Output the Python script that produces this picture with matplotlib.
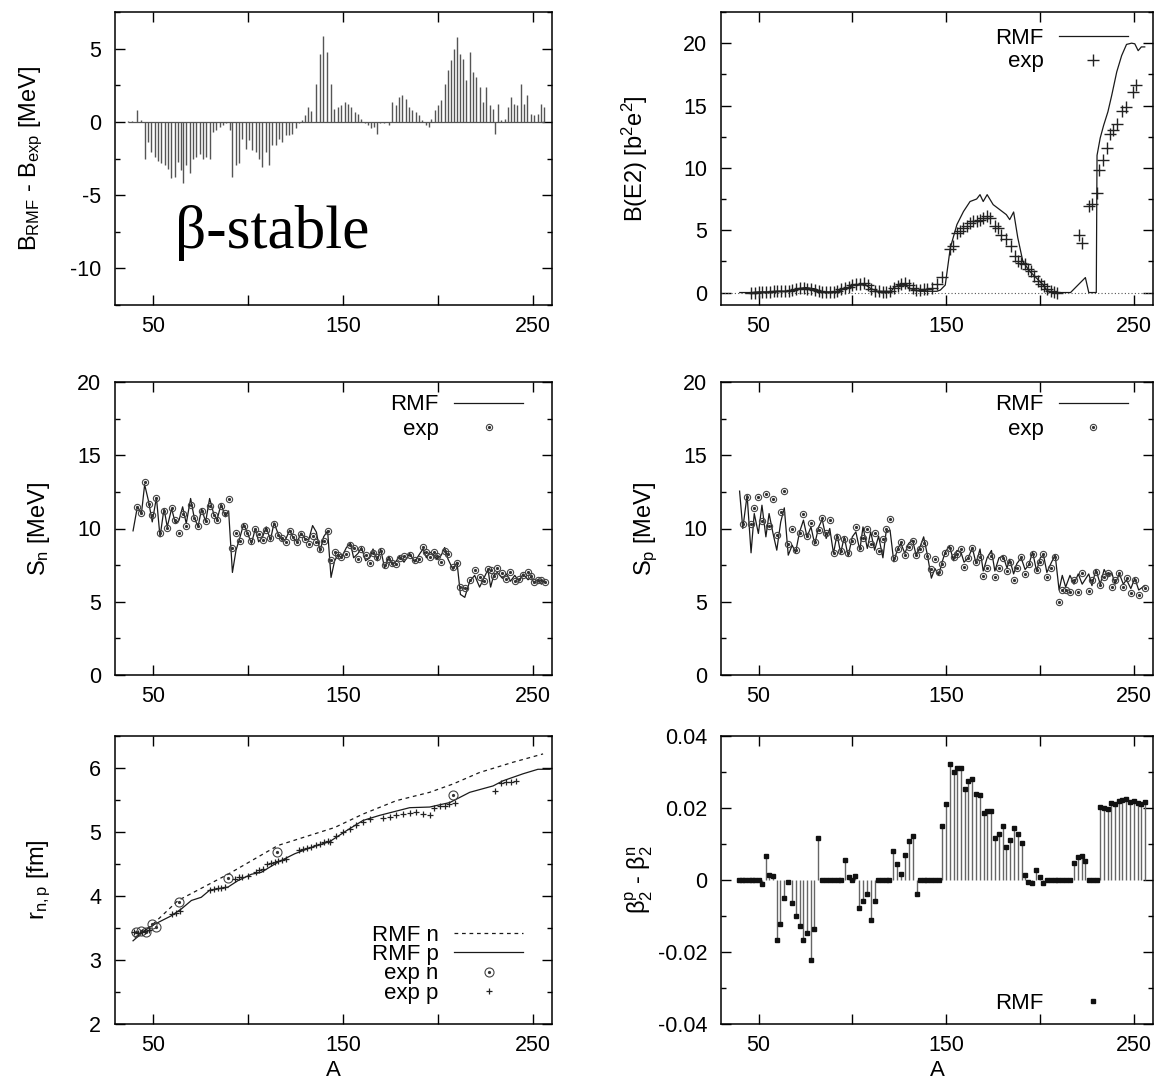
import matplotlib
matplotlib.use('Agg')

import numpy as np
import matplotlib.pyplot as plt
from matplotlib.lines import Line2D
from matplotlib.ticker import MultipleLocator, FixedLocator, FuncFormatter

plt.rcParams.update({
    'font.family': 'Liberation Sans',
    'font.size': 16,
    'axes.labelsize': 17,
    'xtick.labelsize': 15.5,
    'ytick.labelsize': 15.5,
    'mathtext.fontset': 'custom',
    'mathtext.rm': 'Liberation Sans',
    'mathtext.it': 'Liberation Sans:italic',
    'mathtext.bf': 'Liberation Sans:bold',
    'axes.unicode_minus': False,
    'axes.linewidth': 1.1,
    'xtick.direction': 'in', 'ytick.direction': 'in',
    'xtick.top': True, 'ytick.right': True,
    'xtick.major.size': 7, 'ytick.major.size': 7,
    'xtick.minor.size': 3.5, 'ytick.minor.size': 3.5,
    'xtick.major.width': 1, 'ytick.major.width': 1,
    'xtick.minor.width': 1, 'ytick.minor.width': 1,
    'xtick.major.pad': 8, 'ytick.major.pad': 10,
})

# ---------------- data ----------------
# B_RMF - B_exp (impulses)
dB_A = [37, 39, 41.8, 43.9, 45.6, 47.4, 49.1, 50.9, 52.6, 54.4,
        56.1, 57.9, 59.6, 61.4, 63.0, 64.5, 65.8, 67.5, 69.3, 71.1,
        72.8, 74.6, 76.3, 78.1, 79.8, 81.6, 83.3, 85.1, 86.8, 88.6,
        90.4, 91.8, 93.5, 95.3, 97.0, 98.8, 100.5, 102.3, 104.0, 105.8,
        107.5, 109.3, 111.1, 112.8, 114.6, 116.3, 118.1, 119.8, 121.6, 123.3,
        125.1, 126.8, 128.6, 129.8, 131.6, 133.3, 135.6, 137.7, 139.7, 141.6,
        143.5, 145.5, 147.4, 149.1, 150.9, 152.6, 154.4, 156.2, 157.9, 159.7,
        161.4, 163.2, 164.9, 166.3, 167.9, 169.7, 171.4, 172.8, 174.2, 176.0,
        177.7, 179.5, 181.2, 183.0, 184.8, 186.5, 188.3, 190.0, 191.8, 193.5,
        195.3, 196.5, 198.3, 200.0, 201.8, 203.5, 205.3, 206.7, 208.4, 209.8,
        211.4, 213.2, 214.9, 216.7, 218.4, 220.2, 221.9, 223.7, 225.5, 227.2,
        229.0, 229.8, 231.6, 233.4, 235.1, 236.9, 238.3, 240.0, 241.8, 243.5,
        245.3, 247.0, 248.8, 250.5, 252.6, 254.1, 255.8]
dB_val = [0.05, 0.05, 0.84, 0.1, -2.5, -1.36, -2.05, -2.4, -2.7, -2.84,
          -2.95, -3.2, -3.86, -3.75, -2.73, -3.3, -4.2, -2.95, -3.5, -2.5,
          -2.4, -2.16, -2.5, -2.4, -2.5, -0.68, -0.57, -0.34, -0.23, -0.11,
          -0.57, -3.75, -2.95, -2.84, -1.14, -1.82, -1.25, -1.93, -2.05, -2.5,
          -3.07, -2.05, -2.95, -1.6, -1.6, -1.14, -1.36, -0.91, -0.91, -0.8,
          -0.41, -0.05, 0.11, 0.45, 1.02, 0.73, 2.61, 4.66, 5.86, 4.77,
          2.57, 0.9, 1.02, 1.14, 1.36, 1.25, 1.02, 0.68, 0.57, 0.23,
          -0.11, -0.23, -0.45, -0.34, -0.8, -0.11, -0.11, 0.0, -0.23, 1.36,
          1.14, 1.7, 1.82, 1.59, 1.02, 0.8, 0.68, 0.45, 0.11, -0.23,
          -0.34, 0.23, 0.8, 1.14, 1.48, 2.61, 3.52, 4.2, 5.0, 5.8,
          4.66, 4.3, 2.84, 4.77, 3.41, 3.07, 2.39, 1.36, 2.39, 1.14,
          0.91, -0.8, 1.25, 0.11, 0.23, 1.02, 1.7, 1.25, 1.14, 2.61,
          1.25, 1.82, 0.57, 0.45, 0.57, 1.25, 1.02]

# B(E2)
be2_rmf_A = [40, 45, 50, 55, 60, 65, 68, 71, 75, 80, 84, 88, 92, 96, 101, 104,
             106.5, 110, 113.5, 117, 120.6, 122, 124, 127.6, 131, 136, 140, 145,
             146.8, 149.4, 152.1, 155.6, 159.1, 162.6, 166.1, 167.9, 169.6, 171.7,
             174.9, 178.4, 181.9, 183.7, 185.8, 188.0, 190.7, 194.2, 197.7, 201.2,
             203.8, 208, 216.1, 224, 225.8, 229.8, 230.2, 231.9, 233.7, 236, 238,
             240.7, 243.3, 245.9, 248.6, 250.3, 252.1, 253.8, 255.6]
be2_rmf = [0, 0, 0.05, 0.05, 0.1, 0.1, 0.15, 0.3, 0.4, 0.3, 0.05, 0.05, 0.1, 0.3, 0.6, 0.6,
           0.65, 0.3, 0.1, 0.1, 0.1, 0.4, 0.55, 0.6, 0.3, 0.1, 0.1, 0.1,
           0.2, 0.6, 3.6, 5.45, 6.5, 7.3, 7.5, 7.85, 7.3, 7.85,
           7.05, 6.65, 6.25, 5.85, 6.46, 4.4, 2.5, 1.73, 1.2, 0.66,
           0.13, 0, 0, 1.2, 0, 0, 11.0, 12.4, 13.4, 14.5, 15.8,
           17.7, 19.0, 19.9, 20.0, 19.95, 19.4, 19.7, 19.7]
be2_exp_A = [46, 48, 50, 52, 54, 56, 58, 60, 62, 64, 66, 68, 70, 72, 74, 76, 78, 80,
             82, 84, 86, 88, 90, 92, 94, 96, 98, 100, 102, 104, 106, 108, 110, 112,
             114, 116, 118, 120, 122, 124, 126, 128, 130, 132, 134, 136, 138,
             139.8, 142.4, 145.1, 147.7, 152.1, 153.5, 155.6, 157.3, 159.1, 160.9,
             162.6, 164.4, 166.1, 167.9, 169.6, 171.4, 173.1, 175.8, 177.5, 179.3,
             181.9, 184.5, 186.3, 188.0, 189.8, 191.6, 193.3, 195.1, 196.8, 198.6,
             200.3, 202.1, 203.8, 205.6, 207.3, 209.1, 220.5, 222.3, 225.8, 227.5,
             230.2, 231.0, 233.3, 235.4, 237.2, 238.6, 240.7, 243.3, 245.6, 249.5, 251.2]
be2_exp = [0.0, 0.0, 0.05, 0.05, 0.05, 0.05, 0.1, 0.1, 0.1, 0.15, 0.15, 0.2, 0.3, 0.4, 0.35, 0.3, 0.25, 0.2,
           0.1, 0.08, 0.05, 0.05, 0.08, 0.1, 0.3, 0.4, 0.45, 0.6, 0.65, 0.7, 0.8, 0.6, 0.3, 0.15,
           0.1, 0.08, 0.08, 0.1, 0.4, 0.55, 0.7, 0.75, 0.6, 0.4, 0.2, 0.2, 0.25,
           0.27, 0.4, 0.66, 1.25, 3.46, 3.72, 4.79, 4.97, 5.19, 5.32,
           5.59, 5.72, 5.77, 5.85, 5.98, 6.12, 5.98, 5.32, 5.19, 4.65,
           4.26, 3.72, 2.93, 2.53, 2.39, 2.26, 1.86, 1.73, 1.33, 0.93,
           0.66, 0.53, 0.27, 0.13, 0.08, 0.0, 4.65, 3.99, 6.91, 7.1,
           7.98, 9.84, 10.64, 11.57, 12.69, 13.03, 13.48, 14.55, 14.89, 16.09, 16.62]

# S_n
sn_A = [41.8, 43.9, 45.6, 47.7, 49.6, 51.8, 53.7, 55.8, 57.5, 59.8,
        61.8, 63.7, 65.6, 67.5, 69.8, 71.6, 73.7, 75.6, 77.7, 79.8,
        81.9, 83.7, 85.8, 88.1, 89.8, 91.8, 93.7, 95.6, 97.7, 99.7,
        101.8, 103.9, 105.6, 107.7, 109.6, 111.8, 113.7, 115.8, 117.9, 119.8,
        121.9, 123.9, 126.0, 127.9, 130.0, 131.9, 134.0, 136.0, 137.9, 139.8,
        141.9, 143.7, 145.6, 147.4, 149.1, 151.8, 153.9, 155.6, 157.9, 159.7,
        161.9, 164.1, 165.8, 168.1, 169.8, 171.9, 174.1, 176.0, 178.1, 179.8,
        182.1, 185.1, 187.7, 190.0, 192.1, 193.9, 195.6, 197.7, 199.5, 201.8,
        203.5, 205.3, 207.9, 210.0, 211.8, 214.1, 216.7, 219.3, 221.9, 224.1,
        226.3, 227.7, 229.3, 231.2, 233.9, 236.0, 238.1, 240.4, 242.6, 244.8,
        247.4, 249.1, 250.4, 252.6, 254.4, 256.2]
sn_exp = [11.48, 11.09, 13.18, 11.64, 10.95, 12.05, 9.70, 11.20, 10.05, 11.41,
          10.61, 9.66, 11.02, 10.18, 11.59, 10.75, 10.18, 11.18, 10.50, 11.52,
          10.95, 10.55, 11.52, 11.09, 11.98, 8.64, 9.66, 9.16, 10.18, 9.66,
          9.16, 10.0, 9.61, 9.2, 9.93, 9.36, 10.30, 9.55, 9.36, 9.09,
          9.82, 9.43, 9.09, 9.61, 9.25, 8.93, 9.48, 9.09, 8.57, 9.16,
          9.84, 7.84, 8.41, 8.18, 8.07, 8.25, 8.86, 8.64, 7.95, 8.57,
          8.18, 7.66, 8.36, 8.07, 8.48, 7.5, 7.95, 7.66, 7.55, 8.02,
          8.11, 8.18, 7.84, 7.95, 8.75, 8.41, 8.07, 8.41, 8.11, 7.73,
          8.48, 8.23, 7.34, 7.66, 6.02, 5.91, 6.48, 7.2, 6.7, 6.43,
          7.23, 7.16, 6.75, 7.27, 6.98, 6.55, 7.05, 6.41, 6.52, 6.86,
          7.0, 6.75, 6.32, 6.48, 6.48, 6.36]
sn_rmf_A = [39.5] + sn_A
sn_rmf = [9.84,
          11.5, 11.0, 13.0, 11.84, 10.45, 12.11, 9.43, 11.36, 10.11, 11.36,
          10.34, 10.57, 11.48, 10.34, 12.05, 10.80, 10.11, 11.36, 10.45, 12.05,
          11.02, 10.57, 11.66, 10.8, 11.2, 7.0, 8.52, 9.32, 10.3, 9.7,
          8.98, 10.0, 9.09, 9.43, 10.11, 9.2, 10.39, 9.66, 9.2, 9.25,
          9.89, 9.32, 9.09, 9.7, 9.32, 9.2, 10.2, 9.75, 8.43, 9.43,
          9.84, 6.66, 7.8, 8.2, 8.0, 8.7, 9.0, 8.0, 8.3, 8.7,
          7.8, 8.0, 8.6, 7.8, 8.6, 7.3, 8.1, 7.5, 7.8, 8.1,
          7.7, 8.3, 7.7, 8.2, 8.6, 8.0, 8.4, 8.2, 7.9, 8.2,
          8.7, 7.9, 7.2, 7.7, 5.5, 5.3, 6.4, 6.8, 6.0, 6.6,
          7.2, 6.0, 6.8, 7.0, 6.6, 6.9, 6.4, 6.8, 6.4, 6.9,
          6.5, 6.7, 6.3, 6.5, 6.2, 6.5]

# S_p
sp_A = [41.6, 43.9, 46.0, 47.7, 49.9, 51.8, 53.9, 55.6, 57.7, 59.7,
        61.8, 63.7, 65.8, 67.9, 69.7, 71.8, 73.9, 75.8, 77.9, 79.9,
        82.0, 83.9, 86.0, 87.9, 89.9, 91.8, 93.7, 95.6, 97.7, 99.9,
        101.8, 103.9, 105.6, 107.9, 109.7, 111.8, 113.9, 116.2, 117.9, 120.0,
        122.0, 124.1, 125.8, 127.9, 129.9, 132.0, 133.9, 136.0, 137.9, 139.9,
        142.0, 143.9, 145.9, 147.7, 149.4, 151.7, 153.8, 155.6, 157.7, 159.4,
        161.7, 163.8, 165.8, 167.9, 169.6, 171.7, 174.0, 175.8, 178.0, 180.2,
        182.3, 183.7, 185.8, 187.5, 189.8, 191.9, 193.8, 195.9, 198.0, 200.0,
        201.7, 203.5, 205.6, 207.9, 210.0, 211.7, 213.5, 215.8, 217.9, 220.2,
        222.3, 225.8, 227.5, 229.6, 231.9, 234.0, 236.0, 238.0, 239.8, 242.1,
        244.2, 245.9, 248.2, 250.3, 252.4, 255.6]
sp_exp = [10.30, 12.16, 10.34, 11.43, 12.16, 10.52, 12.34, 10.18, 11.98, 9.55,
          11.14, 12.55, 8.93, 9.98, 8.52, 9.70, 11.02, 9.5, 10.39, 9.09,
          9.89, 10.75, 9.66, 10.61, 8.36, 9.39, 8.48, 9.30, 8.30, 9.16,
          10.07, 8.64, 9.32, 9.95, 8.93, 9.66, 8.48, 9.27, 10.0, 10.68,
          8.0, 8.57, 9.09, 8.18, 8.75, 9.14, 8.18, 8.57, 9.02, 8.14,
          7.23, 7.95, 7.05, 7.61, 8.30, 8.70, 8.07, 8.23, 8.57, 7.39,
          8.02, 8.68, 7.73, 8.07, 6.75, 7.27, 8.11, 6.70, 7.32, 8.02,
          7.09, 7.73, 6.48, 7.27, 8.07, 6.89, 7.61, 8.25, 7.16, 7.73,
          8.23, 6.66, 7.27, 8.07, 5.0, 5.80, 5.80, 5.68, 6.48, 5.68,
          6.93, 5.75, 6.48, 7.05, 6.14, 6.66, 6.98, 6.02, 6.48, 6.98,
          6.02, 6.59, 5.57, 6.48, 5.45, 5.91]
sp_rmf_A = [39.9] + sp_A
sp_rmf = [12.55,
          10.0, 12.27, 8.34, 11.02, 9.66, 11.59, 9.43, 11.02, 9.66, 8.52,
          10.45, 11.41, 8.18, 8.86, 8.36, 9.75, 10.57, 9.43, 10.11, 8.93,
          10.11, 10.61, 9.32, 10.0, 8.3, 9.61, 8.3, 9.43, 8.11, 9.43,
          9.77, 8.52, 10.11, 8.64, 9.77, 8.52, 9.48, 8.0, 9.77, 9.89,
          7.73, 8.64, 8.98, 8.3, 8.98, 9.2, 8.18, 8.75, 9.43, 8.18,
          6.61, 7.27, 6.8, 7.7, 8.4, 8.8, 7.8, 8.5, 8.4, 7.7,
          8.0, 8.7, 7.6, 8.6, 7.1, 8.0, 8.5, 7.1, 8.0, 8.1,
          7.3, 7.9, 6.9, 7.6, 8.0, 7.2, 7.5, 8.4, 7.1, 8.0,
          8.2, 7.0, 7.6, 8.2, 5.8, 6.8, 6.0, 6.8, 6.2, 6.9,
          6.2, 6.9, 6.1, 7.2, 6.2, 7.2, 6.7, 7.0, 6.2, 6.9,
          6.2, 6.5, 5.9, 6.6, 5.8, 6.1]

# radii
rn_rmf_A = [40.4, 50.0, 63.2, 89.5, 115.8, 145.6, 160.5, 178.1, 195.6, 207.9, 221.9, 239.5, 255.3]
rn_rmf = [3.35, 3.56, 3.93, 4.34, 4.79, 5.07, 5.28, 5.49, 5.62, 5.75, 5.93, 6.09, 6.22]
rp_rmf_A = [39.5, 45.6, 50.9, 59.6, 65.0, 70.2, 75.4, 79.8, 89.5, 94.7, 101.8, 107.0, 115.8,
            124.6, 133.3, 143.0, 151.8, 160.5, 169.3, 185.1, 195.6, 206.2, 216.7, 229.0,
            234.2, 244.8, 252.6, 259.0]
rp_rmf = [3.30, 3.46, 3.56, 3.69, 3.80, 3.93, 3.98, 4.09, 4.14, 4.24, 4.34, 4.37, 4.53,
          4.66, 4.76, 4.85, 5.02, 5.18, 5.26, 5.38, 5.39, 5.46, 5.62, 5.72,
          5.80, 5.91, 5.98, 5.98]
rn_exp_A = [41.2, 43.9, 46.5, 49.5, 51.8, 63.7, 89.5, 115.4, 207.9]
rn_exp = [3.43, 3.46, 3.43, 3.57, 3.51, 3.90, 4.28, 4.68, 5.58]
rp_exp_A = [40, 42, 44, 46, 48, 60, 62, 64, 80, 82, 84, 86, 88, 93, 95, 97, 100,
            104, 106, 108, 110, 112, 114, 116, 118, 120, 127, 129, 131, 133, 136, 138,
            140, 142, 143, 146.5, 150, 153.5, 157, 160.5, 164, 171, 174.6, 178, 181.6,
            185, 188.6, 192, 195.6, 198, 201, 203.5, 206, 209, 229.8, 233.4, 236, 238.6, 241.2]
rp_exp = [3.43, 3.42, 3.44, 3.45, 3.47, 3.72, 3.74, 3.76, 4.10, 4.11, 4.12, 4.13, 4.14,
          4.27, 4.29, 4.30, 4.31, 4.38, 4.40, 4.42, 4.50, 4.52, 4.53, 4.55, 4.56, 4.58,
          4.72, 4.74, 4.75, 4.77, 4.80, 4.82, 4.84, 4.86, 4.85, 4.93, 5.0, 5.05, 5.11,
          5.15, 5.2, 5.22, 5.24, 5.26, 5.28, 5.29, 5.31, 5.28, 5.27, 5.38, 5.40, 5.40,
          5.43, 5.45, 5.64, 5.76, 5.78, 5.78, 5.79]

# beta2^p - beta2^n
db2_A = [39.5, 41.3, 43.0, 44.8, 46.5, 48.3, 50.0, 51.6, 53.7, 55.8,
         57.9, 59.7, 61.6, 63.7, 65.8, 67.9, 69.7, 71.8, 73.7, 75.8,
         77.9, 79.7, 81.6, 83.7, 85.8, 87.9, 90.0, 92.1, 93.9, 96.0,
         98.1, 100.0, 101.6, 103.7, 105.8, 107.9, 109.9, 111.8, 113.5, 115.6,
         117.6, 119.7, 121.8, 123.7, 125.8, 127.9, 130.0, 132.0, 134.1, 136.0,
         138.1, 139.9, 141.6, 143.7, 145.9, 147.9, 150.0, 151.7, 153.8, 155.8,
         157.7, 160.0, 161.7, 163.7, 165.8, 167.9, 170.0, 171.6, 173.7, 175.8,
         177.9, 180.0, 181.6, 183.7, 185.8, 187.9, 190.0, 191.7, 193.7, 195.8,
         197.9, 200.0, 201.7, 203.8, 205.6, 207.7, 209.6, 211.7, 213.7, 215.8,
         217.9, 220.0, 222.1, 223.8, 225.8, 227.9, 230.0, 231.6, 233.7, 235.8,
         237.9, 240.0, 241.7, 243.7, 245.8, 247.9, 250.0, 252.1, 253.8, 255.6]
db2 = [0, 0, 0, 0, 0, 0, 0, -0.0011, 0.0067, 0.0014,
       0.0011, -0.0167, -0.0123, -0.0051, -0.0006, -0.0063, -0.01, -0.0128, -0.0167, -0.0147,
       -0.0221, -0.0135, 0.0116, 0, 0, 0, 0, 0, 0, 0.0056,
       0.0007, 0, 0.0011, -0.0079, -0.0059, -0.0039, -0.011, -0.0059, 0, 0,
       0, 0, 0.0081, 0.0044, 0.0017, 0.007, 0.0109, 0.0123, -0.0039, 0,
       0, 0, 0, 0, 0, 0.0149, 0.0212, 0.0321, 0.03, 0.0312,
       0.0312, 0.0253, 0.0274, 0.0281, 0.024, 0.0236, 0.0186, 0.0193, 0.0193, 0.0116,
       0.0128, 0.0151, 0.0091, 0.0112, 0.0144, 0.0128, 0.0102, 0.0013, -0.0005, -0.0009,
       0.0028, 0.0007, -0.0009, 0, 0, 0, 0, 0, 0, 0,
       0.0047, 0.0063, 0.0067, 0.0053, 0, 0, 0, 0.0203, 0.02, 0.0197,
       0.0214, 0.0212, 0.0219, 0.0223, 0.0226, 0.0216, 0.0219, 0.0214, 0.0212, 0.0216]

# ---------------- figure ----------------
W, H = 1163.0, 1084.0
fig = plt.figure(figsize=(W / 100, H / 100), dpi=100)


def box(l, t, r, b):
    return [l / W, 1 - b / H, (r - l) / W, (b - t) / H]


ax_db = fig.add_axes(box(115, 12, 552, 305))
ax_be2 = fig.add_axes(box(721, 12, 1153, 305))
ax_sn = fig.add_axes(box(115, 382, 552, 675))
ax_sp = fig.add_axes(box(721, 382, 1153, 675))
ax_r = fig.add_axes(box(115, 736, 552, 1024))
ax_b2 = fig.add_axes(box(721, 736, 1153, 1024))

LINE = '#1a1a1a'
GREY = '#555555'


def frame(ax, ylim, ymaj, ymin):
    ax.set_xlim(30, 260)
    ax.set_ylim(*ylim)
    ax.xaxis.set_major_locator(FixedLocator([50, 100, 150, 200, 250]))
    ax.xaxis.set_major_formatter(FuncFormatter(lambda v, p: '%d' % v if v in (50, 150, 250) else ''))
    ax.yaxis.set_major_locator(MultipleLocator(ymaj))
    ax.yaxis.set_minor_locator(MultipleLocator(ymin))


def key(ax, handles, labels, x, y, loc, spacing):
    ax.legend(handles, labels, loc=loc, bbox_to_anchor=(x, y), frameon=False,
              markerfirst=False, handlelength=3.1, handletextpad=0.7,
              borderpad=0, borderaxespad=0, labelspacing=spacing, fontsize=16)


def circ(ms):
    return (Line2D([], [], ls='none', marker='o', ms=ms, mfc='none', mec='#444444', mew=0.8),
            Line2D([], [], ls='none', marker='o', ms=1.3, color='#333333'))


# panel 1: binding energy differences
frame(ax_db, (-12.5, 7.5), 5, 2.5)
ax_db.vlines(dB_A, 0, dB_val, color=GREY, lw=1.0)
ax_db.hlines(0, min(dB_A), max(dB_A), color=GREY, lw=0.9)
ax_db.text(61.5, -8.6, 'β-stable', family='Liberation Serif', fontsize=44, va='baseline')
ax_db.set_ylabel(r'B$_{\rm RMF}$ - B$_{\rm exp}$ [MeV]')
ax_db.yaxis.set_label_coords(-0.16, 0.5)

# panel 2: B(E2)
frame(ax_be2, (-1, 22.5), 5, 2.5)
ax_be2.axhline(0, color=GREY, lw=0.8, ls=(0, (1, 2)))
ax_be2.plot(be2_rmf_A, be2_rmf, color=LINE, lw=0.9)
ax_be2.plot(be2_exp_A, be2_exp, ls='none', marker='+', ms=8, mew=1.0, color='#222222')
key(ax_be2, [Line2D([], [], color=LINE, lw=0.9),
             Line2D([], [], ls='none', marker='+', ms=8, mew=1.0, color='#222222')],
    ['RMF', 'exp'], 0.942, 0.945, 'upper right', 0.1)
ax_be2.set_ylabel(r'B(E2) [b$^2$e$^2$]')
ax_be2.yaxis.set_label_coords(-0.164, 0.5)

# panel 3: S_n
frame(ax_sn, (0, 20), 5, 2.5)
ax_sn.plot(sn_rmf_A, sn_rmf, color=LINE, lw=0.9)
c1, c2 = circ(4.5)
ax_sn.plot(sn_A, sn_exp, ls='none', marker='o', ms=4.5, mfc='none', mec='#444444', mew=0.8)
ax_sn.plot(sn_A, sn_exp, ls='none', marker='o', ms=1.3, color='#333333')
key(ax_sn, [Line2D([], [], color=LINE, lw=0.9), (c1, c2)], ['RMF', 'exp'],
    0.934, 0.958, 'upper right', 0.15)
ax_sn.set_ylabel(r'S$_{\rm n}$ [MeV]')
ax_sn.yaxis.set_label_coords(-0.144, 0.5)

# panel 4: S_p
frame(ax_sp, (0, 20), 5, 2.5)
ax_sp.plot(sp_rmf_A, sp_rmf, color=LINE, lw=0.9)
c1, c2 = circ(4.5)
ax_sp.plot(sp_A, sp_exp, ls='none', marker='o', ms=4.5, mfc='none', mec='#444444', mew=0.8)
ax_sp.plot(sp_A, sp_exp, ls='none', marker='o', ms=1.3, color='#333333')
key(ax_sp, [Line2D([], [], color=LINE, lw=0.9), (c1, c2)], ['RMF', 'exp'],
    0.942, 0.958, 'upper right', 0.15)
ax_sp.set_ylabel(r'S$_{\rm p}$ [MeV]')
ax_sp.yaxis.set_label_coords(-0.141, 0.5)

# panel 5: radii
frame(ax_r, (2, 6.5), 1, 0.5)
ax_r.plot(rn_rmf_A, rn_rmf, color=LINE, lw=0.9, ls=(0, (3, 3)))
ax_r.plot(rp_rmf_A, rp_rmf, color=LINE, lw=0.9)
ax_r.plot(rn_exp_A, rn_exp, ls='none', marker='o', ms=6.5, mfc='none', mec='#444444', mew=0.8)
ax_r.plot(rn_exp_A, rn_exp, ls='none', marker='o', ms=1.3, color='#333333')
ax_r.plot(rp_exp_A, rp_exp, ls='none', marker='+', ms=5, mew=0.9, color='#222222')
c1, c2 = circ(6.5)
key(ax_r, [Line2D([], [], color=LINE, lw=0.9, ls=(0, (3, 3))),
           Line2D([], [], color=LINE, lw=0.9), (c1, c2),
           Line2D([], [], ls='none', marker='+', ms=5, mew=0.9, color='#222222')],
    ['RMF n', 'RMF p', 'exp n', 'exp p'], 0.934, 0.07, 'lower right', -0.07)
ax_r.set_ylabel(r'r$_{\rm n,p}$ [fm]')
ax_r.yaxis.set_label_coords(-0.142, 0.5)
ax_r.set_xlabel('A', fontsize=16)
ax_r.xaxis.set_label_coords(0.5, -0.125)

# panel 6: beta2 differences
frame(ax_b2, (-0.04, 0.04), 0.02, 0.01)
ax_b2.yaxis.set_major_formatter(FuncFormatter(lambda v, p: '%g' % round(v, 3)))
ax_b2.vlines(db2_A, 0, db2, color='#666666', lw=1.0)
ax_b2.plot(db2_A, db2, ls='none', marker='s', ms=2.3, color='#111111')
key(ax_b2, [Line2D([], [], ls='none', marker='s', ms=2.3, color='#111111')], ['RMF'],
    0.942, 0.035, 'lower right', 0.3)
ax_b2.set_ylabel(r'β$_2^{\rm p}$ - β$_2^{\rm n}$')
ax_b2.yaxis.set_label_coords(-0.153, 0.5)
ax_b2.set_xlabel('A', fontsize=16)
ax_b2.xaxis.set_label_coords(0.5, -0.125)

fig.savefig('out.png', dpi=100)
